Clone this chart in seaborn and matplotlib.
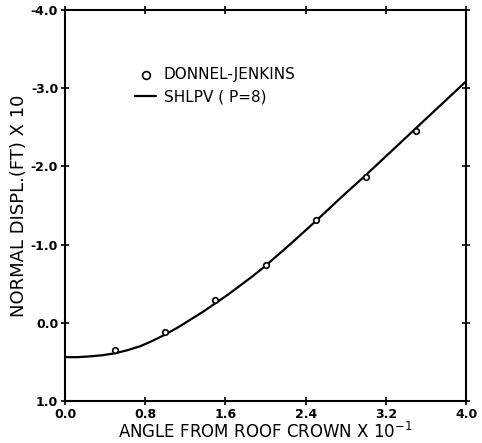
import matplotlib
matplotlib.use('Agg')
import matplotlib.pyplot as plt
import pandas as pd
import seaborn as sns

# valores (ângulo x 10^-1, deslocamento x 10)
angulo_dj = [0.5, 1.0, 1.5, 2.0, 2.5, 3.0, 3.5]
desloc_dj = [0.35, 0.12, -0.29, -0.74, -1.32, -1.87, -2.45]

angulo_sh = [0.0, 0.125, 0.25, 0.375, 0.5, 0.625, 0.75, 0.875, 1.0, 1.125,
             1.25, 1.375, 1.5, 1.625, 1.75, 1.875, 2.0, 2.25, 2.5, 2.75,
             3.0, 3.25, 3.5, 3.75, 4.0]
desloc_sh = [0.44, 0.44, 0.43, 0.415, 0.39, 0.35, 0.30, 0.23, 0.15, 0.06,
             -0.04, -0.14, -0.25, -0.36, -0.48, -0.60, -0.73, -1.01, -1.30, -1.60,
             -1.89, -2.19, -2.49, -2.79, -3.09]

xticks = [0.0, 0.8, 1.6, 2.4, 3.2, 4.0]
yticks = [1.0, 0.0, -1.0, -2.0, -3.0, -4.0]

df_dj = pd.DataFrame({'x': angulo_dj, 'y': desloc_dj})
df_sh = pd.DataFrame({'x': angulo_sh, 'y': desloc_sh})

sns.set_style('ticks')
plt.rcParams['font.family'] = ['DejaVu Sans']
plt.rcParams['text.color'] = 'black'
plt.rcParams['axes.labelcolor'] = 'black'
plt.rcParams['xtick.color'] = 'black'
plt.rcParams['ytick.color'] = 'black'

fig = plt.figure(figsize=(4.82, 4.43), dpi=100)
ax = fig.add_axes([0.135, 0.095, 0.832, 0.882])

sns.lineplot(data=df_sh, x='x', y='y', color='black', linewidth=1.6,
             ax=ax, label='SHLPV ( P=8)', sort=False)
sns.scatterplot(data=df_dj, x='x', y='y', ax=ax, marker='o', s=16,
                facecolor='white', edgecolor='black', linewidth=1.2,
                label='DONNEL-JENKINS', zorder=3)

ax.set_xlim(0.0, 4.0)
ax.set_ylim(1.0, -4.0)
ax.set_xticks(xticks)
ax.set_yticks(yticks)
ax.set_xticklabels([f'{v:.1f}' for v in xticks], fontsize=9, fontweight='bold')
ax.set_yticklabels([f'{v:.1f}' for v in yticks], fontsize=9, fontweight='bold')
ax.tick_params(direction='inout', length=6, width=1.2, top=True, right=True,
               pad=2)

for s in ax.spines.values():
    s.set_linewidth(1.5)
    s.set_color('black')

ax.set_xlabel('ANGLE FROM ROOF CROWN X 10$^{-1}$', fontsize=12, labelpad=1)
ax.set_ylabel('NORMAL DISPL.(FT) X 10', fontsize=13, labelpad=2)

handles, labels = ax.get_legend_handles_labels()
ax.legend(handles[::-1], labels[::-1], loc='upper left',
          bbox_to_anchor=(0.14, 0.89), frameon=False, fontsize=11,
          handlelength=1.4, handletextpad=0.5, labelspacing=0.5,
          markerscale=1.4)

fig.savefig('out.png', dpi=100)
